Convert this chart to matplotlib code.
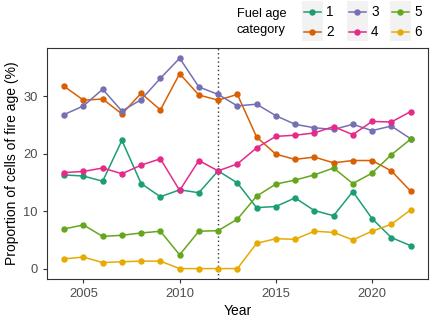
import numpy as np
import matplotlib
matplotlib.use('Agg')
import matplotlib.pyplot as plt
from matplotlib.patches import Rectangle
from matplotlib.lines import Line2D

plt.rcParams['font.family'] = ['Liberation Sans', 'DejaVu Sans']

# Data
years = list(range(2004, 2023))
cat1 = [16.3, 16.1, 15.2, 22.3, 14.8, 12.5, 13.7, 13.2, 17.0, 14.9,
        10.6, 10.8, 12.3, 10.1, 9.2, 13.4, 8.7, 5.4, 4.0]
cat2 = [31.7, 29.3, 29.5, 26.9, 30.5, 27.6, 33.9, 30.2, 29.3, 30.3,
        22.9, 19.9, 19.0, 19.4, 18.4, 18.8, 18.8, 17.0, 13.5]
cat3 = [26.8, 28.3, 31.2, 27.4, 29.4, 33.1, 36.6, 31.6, 30.3, 28.3,
        28.6, 26.6, 25.1, 24.5, 24.2, 25.1, 24.0, 24.8, 22.6]
cat4 = [16.7, 16.9, 17.5, 16.5, 18.0, 19.1, 13.6, 18.8, 17.0, 18.2,
        21.0, 23.0, 23.2, 23.6, 24.7, 23.3, 25.6, 25.5, 27.3]
cat5 = [6.9, 7.6, 5.6, 5.8, 6.2, 6.5, 2.4, 6.5, 6.6, 8.6,
        12.6, 14.7, 15.4, 16.3, 17.5, 14.8, 16.6, 19.8, 22.5]
cat6 = [1.7, 2.0, 1.05, 1.2, 1.3, 1.3, 0.0, 0.0, 0.0, 0.0,
        4.4, 5.2, 5.1, 6.5, 6.3, 5.0, 6.5, 7.7, 10.2]
labels = ['1', '2', '3', '4', '5', '6']
colors = ['#1B9E77', '#D95F02', '#7570B3', '#E7298A', '#66A61E', '#E6AB02']
series = [cat1, cat2, cat3, cat4, cat5, cat6]
cutoff_year = 2012

W, H = 430, 319
fig = plt.figure(figsize=(W / 100, H / 100), dpi=100)
ax = fig.add_axes([0.109, 0.125, 0.886, 0.725])

for vals, lab, col in zip(series, labels, colors):
    ax.plot(years, vals, color=col, lw=1.1, marker='o', markersize=3.6,
            label=lab, zorder=3)

ax.axvline(cutoff_year, color='#333333', lw=1.0, ls=(0, (1, 2)), zorder=2)

ax.set_xlim(2003.1, 2022.9)
ax.set_ylim(-1.83, 38.4)
ax.set_xticks([2005, 2010, 2015, 2020])
ax.set_yticks([0, 10, 20, 30])
ax.tick_params(colors='#333333', labelcolor='#4D4D4D', labelsize=9.3,
               length=3, width=0.8)
ax.set_xlabel('Year', fontsize=10, labelpad=3)
ax.set_ylabel('Proportion of cells of fire age (%)', fontsize=10, labelpad=3)
for s in ax.spines.values():
    s.set_color('#333333')
    s.set_linewidth(0.8)

# Legend above the panel (ggplot style: grey key boxes, 3 columns x 2 rows)
def fx(px):
    return px / W

def fy(py):
    return 1 - py / H

fig.text(fx(237), fy(14), 'Fuel age', fontsize=9.2, ha='left', va='center')
fig.text(fx(237), fy(30), 'category', fontsize=9.2, ha='left', va='center')
col_x = [312, 357, 400]
row_y = [11.7, 32.3]
for i, (lab, col) in enumerate(zip(labels, colors)):
    c, r = i // 2, i % 2
    cx, cy = col_x[c], row_y[r]
    if r == 0:
        fig.add_artist(Rectangle((fx(cx - 10.5), fy(41)), 21 / W, 40 / H,
                                 transform=fig.transFigure,
                                 facecolor='#F2F2F2', edgecolor='none'))
    fig.add_artist(Line2D([fx(cx - 8.5), fx(cx + 8.5)], [fy(cy), fy(cy)],
                          transform=fig.transFigure, color=col, lw=1.1))
    fig.add_artist(Line2D([fx(cx)], [fy(cy)], transform=fig.transFigure,
                          color=col, marker='o', markersize=3.6))
    fig.text(fx(cx + 14), fy(cy), lab, fontsize=9.8, ha='left', va='center')

fig.savefig('out.png', dpi=100)
